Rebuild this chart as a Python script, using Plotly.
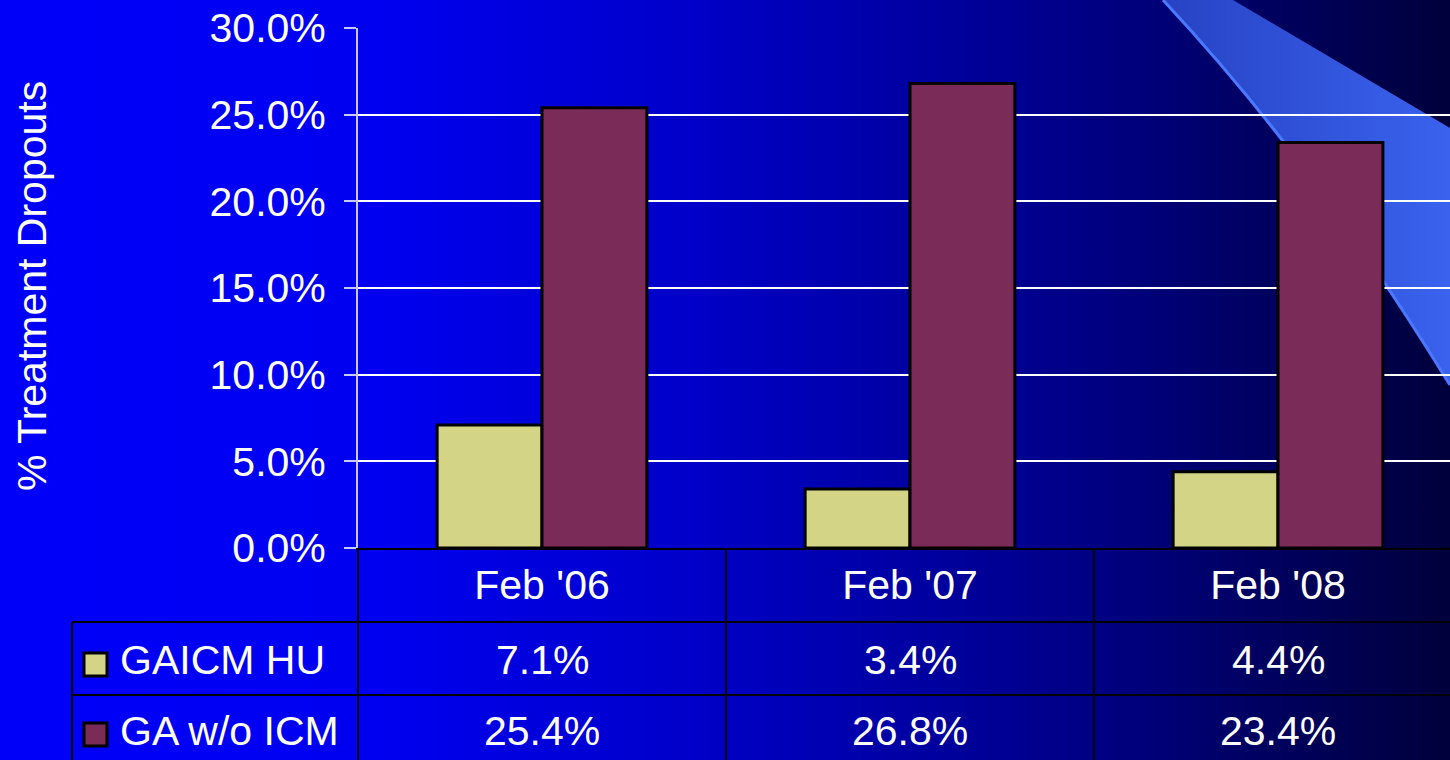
import base64
import plotly.graph_objects as go

# ---------------- data ----------------
categories = ["Feb '06", "Feb '07", "Feb '08"]
series_names = ["GAICM HU", "GA w/o ICM"]
gaicm_hu = [0.071, 0.034, 0.044]
ga_wo_icm = [0.254, 0.268, 0.234]
y_tick_vals = [0.0, 0.05, 0.10, 0.15, 0.20, 0.25, 0.30]
y_title = "% Treatment Dropouts"

# ---------------- geometry ----------------
W, H = 1450, 760
L, T, B = 358, 28, 212
PW = W - L
PH = H - T - B
XMIN = -0.5
XMAX = XMIN + PW / 368.0


def px_x(p):
    return (p - L) / PW


def px_y(p):
    return (H - B - p) / PH


def cat_x(v):
    return (v - XMIN) / (XMAX - XMIN)


FONT = "Liberation Sans, Arial, sans-serif"
FS = 41
WHITE = "#FFFFFF"
YELLOW = "#D4D486"
MAROON = "#7A2B57"

# ---------------- background (gradient + swoosh) ----------------
svg = """<svg xmlns="http://www.w3.org/2000/svg" width="1450" height="760" viewBox="0 0 1450 760" preserveAspectRatio="none">
<defs>
<linearGradient id="bg" x1="0" y1="0" x2="1" y2="0">
<stop offset="0" stop-color="#0000FA"/>
<stop offset="0.26" stop-color="#0000F0"/>
<stop offset="0.48" stop-color="#0000C8"/>
<stop offset="0.76" stop-color="#000082"/>
<stop offset="0.86" stop-color="#000064"/>
<stop offset="1" stop-color="#00003C"/>
</linearGradient>
<linearGradient id="sw" x1="0" y1="0" x2="1" y2="0">
<stop offset="0" stop-color="#2743C4"/>
<stop offset="1" stop-color="#3A62EE"/>
</linearGradient>
</defs>
<rect x="0" y="0" width="1450" height="760" fill="url(#bg)"/>
<path d="M1163,0 C1230,72 1325,182 1450,385 L1450,128 L1233,0 Z" fill="url(#sw)"/>
<path d="M1163,0 C1230,72 1325,182 1450,385" fill="none" stroke="#4A78FF" stroke-width="3"/>
</svg>"""
bg_src = "data:image/svg+xml;base64," + base64.b64encode(svg.encode("utf-8")).decode("ascii")

# ---------------- figure ----------------
fig = go.Figure()
fig.add_trace(go.Bar(name=series_names[0], x=categories, y=gaicm_hu,
                     marker=dict(color=YELLOW, line=dict(color="black", width=3))))
fig.add_trace(go.Bar(name=series_names[1], x=categories, y=ga_wo_icm,
                     marker=dict(color=MAROON, line=dict(color="black", width=3))))

shapes = []
LINE = dict(color="black", width=2)
# table horizontal lines
for yp in (622, 695):
    shapes.append(dict(type="line", xref="paper", yref="paper",
                       x0=px_x(72), x1=1.02, y0=px_y(yp), y1=px_y(yp), line=LINE))
# table vertical lines
shapes.append(dict(type="line", xref="paper", yref="paper",
                   x0=px_x(72), x1=px_x(72), y0=px_y(622), y1=px_y(H + 5), line=LINE))
for i in range(len(categories)):
    xv = cat_x(i - 0.5)
    shapes.append(dict(type="line", xref="paper", yref="paper",
                       x0=xv, x1=xv, y0=px_y(548), y1=px_y(H + 5), line=LINE))
# legend keys
for (y0, col) in ((653, YELLOW), (723, MAROON)):
    shapes.append(dict(type="rect", xref="paper", yref="paper",
                       x0=px_x(84), x1=px_x(107), y0=px_y(y0 + 23), y1=px_y(y0),
                       fillcolor=col, line=dict(color="black", width=3)))

annotations = []
annotations.append(dict(text=y_title, xref="paper", yref="paper",
                        x=px_x(32), y=px_y(286), textangle=-90, showarrow=False,
                        xanchor="center", yanchor="middle",
                        font=dict(family=FONT, size=FS, color=WHITE)))
for name, yc in zip(series_names, (660, 731)):
    annotations.append(dict(text=name, xref="paper", yref="paper",
                            x=px_x(118), y=px_y(yc), showarrow=False,
                            xanchor="left", yanchor="middle",
                            font=dict(family=FONT, size=FS, color=WHITE)))
for vals, yc in ((gaicm_hu, 660), (ga_wo_icm, 731)):
    for i, v in enumerate(vals):
        annotations.append(dict(text=f"{v * 100:.1f}%", xref="paper", yref="paper",
                                x=cat_x(i), y=px_y(yc), showarrow=False,
                                xanchor="center", yanchor="middle",
                                font=dict(family=FONT, size=FS, color=WHITE)))

fig.update_layout(
    width=W, height=H,
    margin=dict(l=L, r=0, t=T, b=B, pad=0),
    paper_bgcolor="#000090",
    plot_bgcolor="rgba(0,0,0,0)",
    barmode="group", bargap=0.43, bargroupgap=0.0,
    showlegend=False,
    font=dict(family=FONT, size=FS, color=WHITE),
    images=[dict(source=bg_src, xref="paper", yref="paper",
                 x=px_x(0), y=px_y(0), sizex=W / PW, sizey=H / PH,
                 xanchor="left", yanchor="top", sizing="stretch", layer="below")],
    shapes=shapes,
    annotations=annotations,
    xaxis=dict(range=[XMIN, XMAX], showgrid=False, showline=True,
               linecolor="black", linewidth=2, ticks="", zeroline=False,
               tickfont=dict(family=FONT, size=FS, color=WHITE),
               ticklabelstandoff=0, fixedrange=True),
    yaxis=dict(range=[0, 0.30], tickvals=y_tick_vals, tickformat=".1%",
               showgrid=True, gridcolor="#FFFFFF", gridwidth=1.5,
               showline=True, linecolor="#C8C8FF", linewidth=2,
               ticks="outside", ticklen=12, tickcolor="#C8C8FF", tickwidth=1.5,
               zeroline=False, ticklabelstandoff=10,
               tickfont=dict(family=FONT, size=FS, color=WHITE), fixedrange=True),
)

fig.write_html(
    "out.html",
    config={"displayModeBar": False},
    post_script="document.body.style.margin='0';document.body.style.overflow='hidden';",
)
